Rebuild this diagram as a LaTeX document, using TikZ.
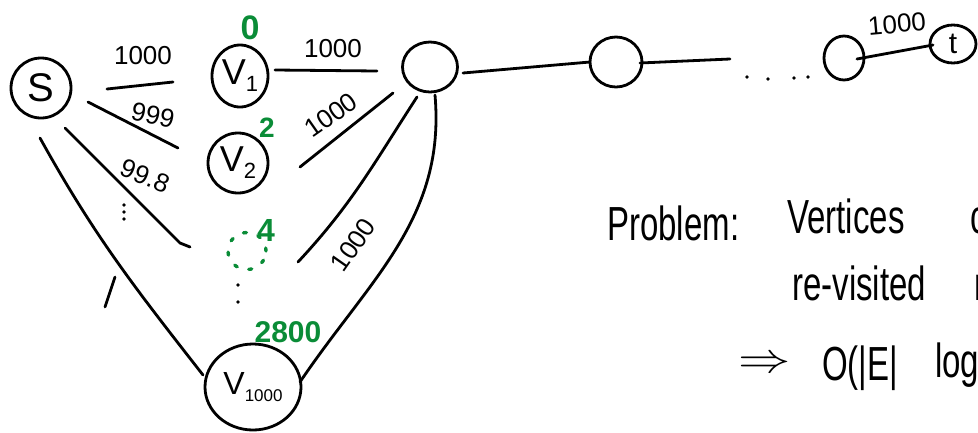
\documentclass[tikz,border=0pt]{standalone}
\usepackage{fontspec}
\setmainfont{Liberation Sans}
\usepackage{graphicx}
\usetikzlibrary{shapes.geometric}
\definecolor{markgreen}{RGB}{10,140,55}
\tikzset{
  vtx/.style={draw, ellipse, line width=2.8pt, inner sep=0pt},
  edge/.style={line width=2.8pt, line cap=round, line join=round},
  wlabel/.style={font=\fontsize{26}{26}\selectfont, inner sep=0pt},
  dist/.style={text=markgreen, font=\bfseries\fontsize{30}{30}\selectfont, inner sep=0pt},
  note/.style={font=\fontsize{33}{33}\selectfont, inner sep=0pt, anchor=base west},
  dotmark/.style={fill=black},
}
% vertex name: big V with a lowered index
\newcommand\vlab[3]{{\fontsize{#1}{#1}\selectfont V}\raisebox{-7pt}{\fontsize{#2}{#2}\selectfont #3}}
\newcommand\tall[1]{\scalebox{1}[1.45]{#1}}

\begin{document}
\begin{tikzpicture}[x=1pt,y=-1pt]
\useasboundingbox (0,0) rectangle (978,432);
\clip (0,0) rectangle (978,432);

% vertices
\node[vtx, minimum width=60pt, minimum height=60pt] (s) at (41,88) {\fontsize{40}{40}\selectfont S};
\node[vtx, minimum width=56pt, minimum height=62pt] (v1) at (240,76) {\vlab{36}{22}{1}};
\node[vtx, minimum width=60pt, minimum height=60pt] (v2) at (238,163) {\vlab{36}{22}{2}};
\node[draw=markgreen, ellipse, line width=3.4pt, line cap=round, dash pattern=on 3pt off 12pt,
      minimum width=38pt, minimum height=37pt, inner sep=0pt] (d4) at (247,251) {};
\node[vtx, minimum width=96pt, minimum height=86pt] (v1000) at (253,387) {\vlab{32}{17}{1000}};
\node[vtx, minimum width=55pt, minimum height=50pt] (a) at (430,67) {};
\node[vtx, minimum width=52pt, minimum height=50pt] (b) at (616,62) {};
\node[vtx, minimum width=40pt, minimum height=44pt] (c) at (844,58) {};
\node[vtx, minimum width=46pt, minimum height=38pt] (t) at (953,44) {\fontsize{30}{30}\selectfont t};
\coordinate (dotsL) at (730,59);

% distances found so far
\node[dist, font=\bfseries\fontsize{34}{34}\selectfont] (d0) at (250,28) {0};
\node[dist, font=\bfseries\fontsize{28}{28}\selectfont] (d2) at (267,128) {2};
\node[dist, font=\bfseries\fontsize{32}{32}\selectfont] (dd4) at (266,230) {4};
\node[dist] (d2800) at (288,332) {2800};

% edges out of s
\draw[edge] ([shift={(66,1)}]s.center) -- ([shift={(-67,6)}]v1.center);
\draw[edge] ([shift={(47,14)}]s.center) -- ([shift={(-60,-15)}]v2.center);
\draw[edge] ([shift={(24,40)}]s.center) -- ([shift={(-67,-8)}]d4.center) -- ([shift={(-57,-4)}]d4.center);
\draw[edge] ([shift={(-1,50)}]s.center) to[out=-61, in=128] ([shift={(-50,-12)}]v1000.center);
\draw[edge] (115,277) -- (105,307);

% edges into the next vertex
\draw[edge] ([shift={(35,-6)}]v1.center) -- ([shift={(-53,4)}]a.center);
\draw[edge] ([shift={(62,4)}]v2.center) -- ([shift={(-37,26)}]a.center);
\draw[edge] ([shift={(-13,30)}]a.center) to[out=-123, in=47] ([shift={(51,11)}]d4.center);
\draw[edge] ([shift={(5,28)}]a.center) to[out=-85, in=56] ([shift={(47,-5)}]v1000.center);

% the chain towards t
\draw[edge] ([shift={(33,6)}]a.center) -- ([shift={(-26,0)}]b.center);
\draw[edge] ([shift={(24,1)}]b.center) -- (dotsL);
\draw[edge] ([shift={(13,1)}]c.center) -- ([shift={(-20,1)}]t.center);

% weights
\node[wlabel] (w1) at (143,56) {1000};
\node[wlabel, rotate=-12] (w2) at (153,115) {999};
\node[wlabel, rotate=-22] (w3) at (145,176) {99.8};
\node[wlabel] (w4) at (333,49) {1000};
\node[wlabel, rotate=35] (w5) at (331,115) {1000};
\node[wlabel, rotate=55] (w6) at (353,245) {1000};
\node[wlabel, rotate=5] (w7) at (897,24) {1000};

% ellipsis marks
\foreach \p in {(124,205),(124,212),(124,219),(238,285),(238,302),
                (747,77),(768,79),(794,78),(808,77)}
  \fill[dotmark] \p circle (1.8pt);

% remark
\node[note] (p1) at (607,240) {\tall{Problem:}};
\node[note] (p2) at (787,233) {\tall{Vertices}};
\node[note] (p3) at (970,233) {\tall{c}};
\node[note] (p4) at (792,300) {\tall{re-visited}};
\node[note] (p5) at (974,300) {\tall{m}};
\node[note] (p6) at (738,372) {\scalebox{2.1}[1.7]{$\Rightarrow$}};
\node[note] (p7) at (822,380) {\tall{O(|E|}};
\node[note] (p8) at (935,377) {\tall{log}};
\end{tikzpicture}
\end{document}
